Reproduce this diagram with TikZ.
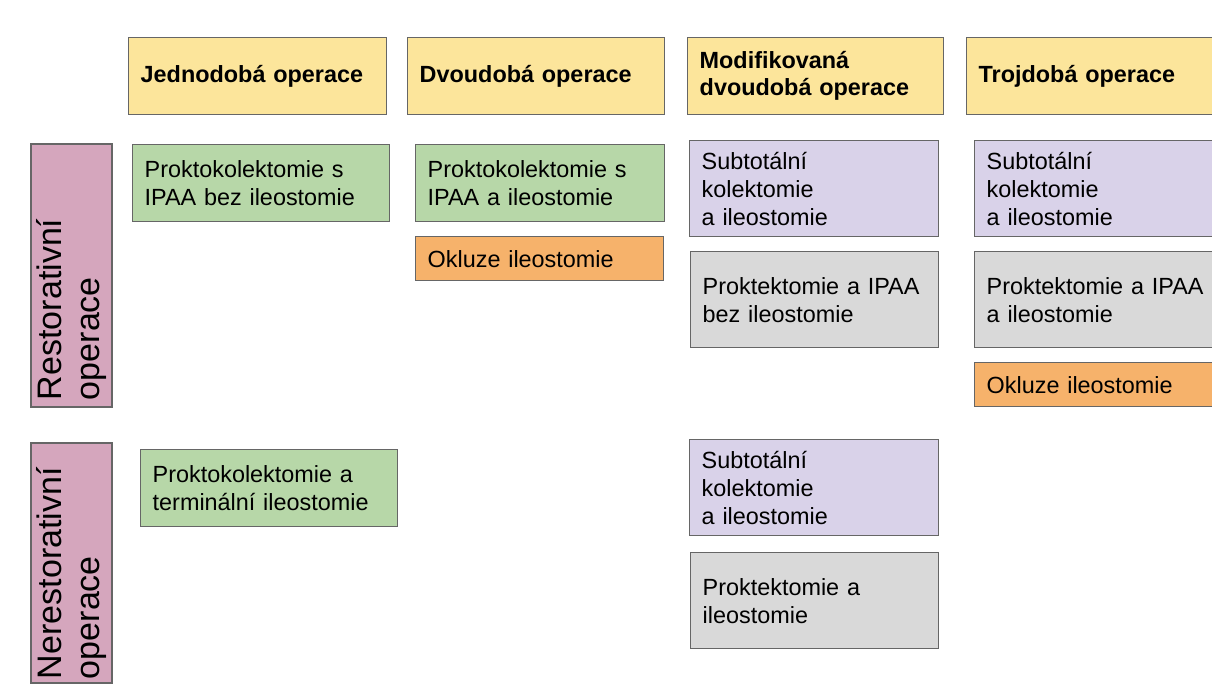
\documentclass[tikz,border=0pt]{standalone}
\usepackage{fontspec}
\setmainfont{Liberation Sans}
\definecolor{hdryellow}{HTML}{FCE59B}
\definecolor{boxgreen}{HTML}{B7D7A8}
\definecolor{boxpurple}{HTML}{D9D2E9}
\definecolor{boxgray}{HTML}{D9D9D9}
\definecolor{boxorange}{HTML}{F6B26B}
\definecolor{rowpink}{HTML}{D5A6BD}
\definecolor{edgegray}{HTML}{666666}
\tikzset{
  box/.style={draw=edgegray, line width=1.4pt, anchor=north west, inner xsep=12pt, inner ysep=0pt,
    align=left, font=\fontsize{23.4}{28}\selectfont},
  hdr/.style={box, fill=hdryellow, font=\bfseries\fontsize{23.4}{27}\selectfont},
  grn/.style={box, fill=boxgreen},
  prp/.style={box, fill=boxpurple},
  gry/.style={box, fill=boxgray},
  org/.style={box, fill=boxorange},
  rowlbl/.style={draw=edgegray, line width=1.4pt, fill=rowpink, rotate=90, inner ysep=0pt,
    align=left, font=\fontsize{34}{38}\selectfont},
}
\begin{document}
\begin{tikzpicture}[x=1pt,y=-1pt]
\useasboundingbox (0,0) rectangle (1212,688);
\clip (0,0) rectangle (1212,688);
% headers
\node[hdr, minimum width=258, minimum height=77, text width=234] (h1) at (128,37) {Jednodobá operace};
\node[hdr, minimum width=257, minimum height=77, text width=233] (h2) at (407,37) {Dvoudobá operace};
\node[hdr, minimum width=256, minimum height=77, text width=232] (h3) at (687,37) {Modifikovaná\\dvoudobá operace};
\node[hdr, minimum width=262, minimum height=77, text width=238] (h4) at (966,37) {Trojdobá operace};
% row labels
\node[rowlbl, minimum width=263, minimum height=81, inner xsep=7pt, text width=249] (r1) at (71.5,275.5) {Restorativní\\operace};
\node[rowlbl, minimum width=240, minimum height=81, inner xsep=4pt, text width=232] (r2) at (71.5,563) {Nerestorativní\\operace};
% column 1
\node[grn, minimum width=257, minimum height=77, text width=233] (g1) at (132,144) {Proktokolektomie s\\IPAA bez ileostomie};
\node[grn, minimum width=257, minimum height=77, text width=233] (g3) at (140,449) {Proktokolektomie a\\terminální ileostomie};
% column 2
\node[grn, minimum width=249, minimum height=77, text width=225] (g2) at (415,144) {Proktokolektomie s\\IPAA a ileostomie};
\node[org, minimum width=248, minimum height=44, text width=224] (o1) at (415,236) {Okluze ileostomie};
% column 3
\node[prp, minimum width=249, minimum height=96, text width=225] (p1) at (689,140) {Subtotální\\kolektomie\\a ileostomie};
\node[gry, minimum width=248, minimum height=96, text width=224] (y1) at (690,251) {Proktektomie a IPAA\\bez ileostomie};
\node[prp, minimum width=249, minimum height=96, text width=225] (p3) at (689,439) {Subtotální\\kolektomie\\a ileostomie};
\node[gry, minimum width=248, minimum height=96, text width=224] (y3) at (690,552) {Proktektomie a\\ileostomie};
% column 4
\node[prp, minimum width=253, minimum height=96, text width=229] (p2) at (974,140) {Subtotální\\kolektomie\\a ileostomie};
\node[gry, minimum width=253, minimum height=96, text width=229] (y2) at (974,251) {Proktektomie a IPAA\\a ileostomie};
\node[org, minimum width=253, minimum height=44, text width=229] (o2) at (974,362) {Okluze ileostomie};
\end{tikzpicture}
\end{document}
